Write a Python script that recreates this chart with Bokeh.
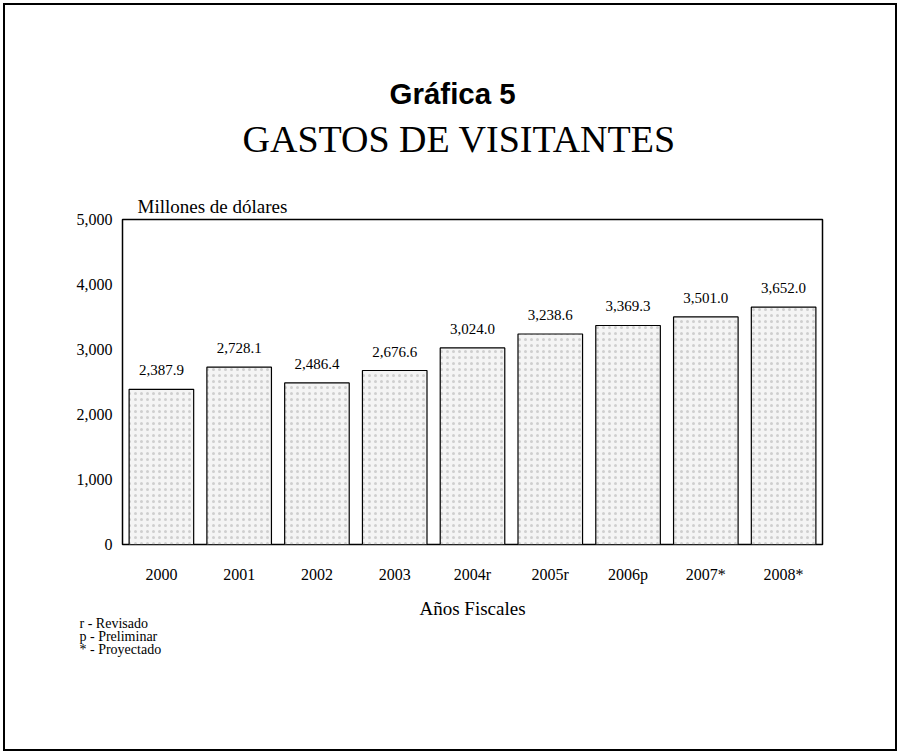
from bokeh.plotting import figure
from bokeh.models import (ColumnDataSource, FactorRange, Range1d, FixedTicker,
                          NumeralTickFormatter, LabelSet, Title)
from bokeh.embed import file_html
from bokeh.resources import INLINE

categories = ["2000", "2001", "2002", "2003", "2004r", "2005r", "2006p", "2007*", "2008*"]
values = [2387.9, 2728.1, 2486.4, 2676.6, 3024.0, 3238.6, 3369.3, 3501.0, 3652.0]
value_labels = ["2,387.9", "2,728.1", "2,486.4", "2,676.6", "3,024.0", "3,238.6", "3,369.3", "3,501.0", "3,652.0"]
y_ticks = [0, 1000, 2000, 3000, 4000, 5000]
notes = ["r - Revisado", "p - Preliminar", "* - Proyectado"]

SERIF = "Liberation Serif"

src = ColumnDataSource(dict(cat=categories, val=values, lab=value_labels))

p = figure(width=900, height=754, output_backend="svg", toolbar_location=None,
           x_range=FactorRange(factors=categories), y_range=Range1d(0, 5000),
           min_border_left=122, min_border_right=78, min_border_top=219, min_border_bottom=210)
p.styles = {"outline": "2px solid black", "outline-offset": "-5px"}

p.vbar(x="cat", top="val", width=0.83, source=src, fill_color="#f4f4f4",
       line_color="black", line_width=1.2, hatch_pattern="dot", hatch_color="#cfcfcf",
       hatch_scale=6, hatch_weight=0.6)

p.add_layout(LabelSet(x="cat", y="val", text="lab", source=src, y_offset=14,
                      text_align="center", text_baseline="alphabetic",
                      text_font=SERIF, text_font_size="15px", text_color="black"))

p.grid.visible = False
p.outline_line_color = "black"
p.outline_line_width = 1.5
p.outline_line_alpha = 1.0
p.background_fill_color = "white"
p.border_fill_color = None

for ax in (p.xaxis[0], p.yaxis[0]):
    ax.axis_line_color = None
    ax.major_tick_line_color = None
    ax.minor_tick_line_color = None
    ax.major_label_text_font = SERIF
    ax.major_label_text_color = "black"

ya = p.yaxis[0]
ya.ticker = FixedTicker(ticks=y_ticks)
ya.formatter = NumeralTickFormatter(format="0,0")
ya.major_label_text_font_size = "16px"
ya.major_tick_out = 0
ya.major_tick_in = 0
ya.major_label_standoff = 10

xa = p.xaxis[0]
xa.major_label_text_font_size = "16px"
xa.major_label_standoff = 15
xa.axis_label = "Años Fiscales"
xa.axis_label_text_font = SERIF
xa.axis_label_text_font_size = "19px"
xa.axis_label_text_font_style = "normal"
xa.axis_label_text_color = "black"
xa.axis_label_standoff = 12

# titles above (first added = closest to the frame)
p.add_layout(Title(text="Millones de dólares", align="left", offset=15, standoff=6,
                   text_font=SERIF, text_font_size="19px", text_font_style="normal",
                   text_color="black"), "above")
p.add_layout(Title(text="GASTOS DE VISITANTES", align="left", offset=120, standoff=62,
                   text_font=SERIF, text_font_size="38px", text_font_style="normal",
                   text_color="black"), "above")
p.add_layout(Title(text="Gráfica 5", align="left", offset=267, standoff=-51,
                   text_font="Liberation Sans", text_font_size="29.5px", text_font_style="bold",
                   text_color="black"), "above")

# notes below (first added = closest to the axis)
note_standoffs = [-15, 7, -15]
for t, s in zip(notes, note_standoffs):
    p.add_layout(Title(text=t, align="left", offset=-43, standoff=s,
                       text_font=SERIF, text_font_size="14px", text_font_style="normal",
                       text_color="black"), "below")

open("out.html", "w").write(file_html(p, INLINE))
